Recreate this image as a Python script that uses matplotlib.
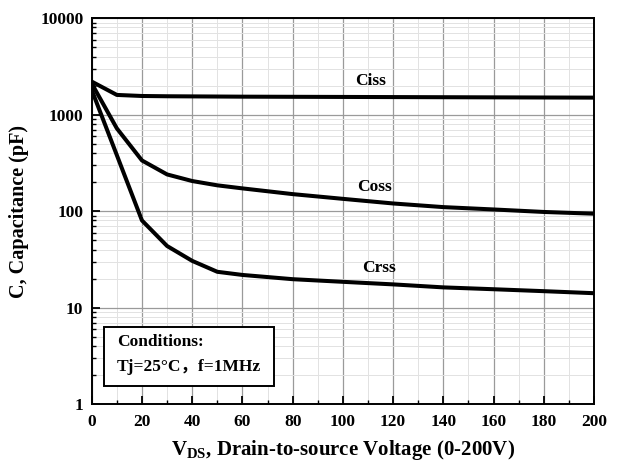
import matplotlib
matplotlib.use("Agg")
import matplotlib.pyplot as plt
from matplotlib.patches import Rectangle
from matplotlib.ticker import MultipleLocator, FixedLocator, LogLocator, NullFormatter

plt.rcParams['font.family'] = ['Liberation Serif', 'Noto Sans CJK SC']
plt.rcParams['font.weight'] = 'bold'
plt.rcParams['mathtext.fontset'] = 'custom'
plt.rcParams['mathtext.rm'] = 'Liberation Serif:bold'
plt.rcParams['mathtext.bf'] = 'Liberation Serif:bold'

# data
vds = [0, 10, 20, 30, 40, 50, 60, 80, 100, 120, 140, 160, 180, 200]
ciss = [2200, 1600, 1560, 1550, 1545, 1540, 1535, 1530, 1525, 1520, 1515, 1510, 1505, 1500]
coss = [2100, 720, 335, 240, 205, 185, 172, 150, 134, 120, 110, 104, 98, 94]
crss = [1800, 380, 80, 43.5, 30.5, 23.5, 21.8, 19.7, 18.5, 17.4, 16.2, 15.5, 14.8, 14.1]

curve_names = ['Ciss', 'Coss', 'Crss']
label_pos = [(111, 2250), (112.5, 176), (114.5, 25.7)]

y_ticks = [1, 10, 100, 1000, 10000]
x_ticks = list(range(0, 201, 20))

fig = plt.figure(figsize=(6.24, 4.65), dpi=100)
ax = fig.add_axes([0.147, 0.131, 0.805, 0.830])

for ys in (ciss, coss, crss):
    ax.plot(vds, ys, color='black', lw=2.9, solid_joinstyle='round', zorder=3)

for name, (lx, ly) in zip(curve_names, label_pos):
    ax.text(lx, ly, name, fontsize=12.5, fontweight='bold', ha='center', va='center')

ax.set_yscale('log')
ax.set_xlim(0, 200)
ax.set_ylim(1, 10000)
ax.xaxis.set_major_locator(FixedLocator(x_ticks))
ax.xaxis.set_minor_locator(MultipleLocator(10))
ax.yaxis.set_major_locator(FixedLocator(y_ticks))
ax.yaxis.set_minor_locator(LogLocator(base=10, subs=range(2, 10)))
ax.yaxis.set_minor_formatter(NullFormatter())
ax.set_yticklabels([str(t) for t in y_ticks])

ax.grid(which='major', color='#9a9a9a', lw=0.9)
ax.grid(which='minor', color='#e2e2e2', lw=0.7)
ax.set_axisbelow(True)

ax.tick_params(which='major', direction='in', length=6, width=1.3, labelsize=12.5)
ax.tick_params(axis='x', which='major', pad=7)
ax.tick_params(axis='y', which='major', pad=6)
ax.tick_params(which='minor', direction='in', length=3, width=1.0)
for lab in ax.get_xticklabels() + ax.get_yticklabels():
    lab.set_fontweight('bold')
for sp in ax.spines.values():
    sp.set_linewidth(1.4)

ax.set_xlabel(r'$\mathbf{V}_{\mathbf{DS}}$, Drain-to-source Voltage (0-200V)',
              fontsize=15, fontweight='bold', labelpad=6)
ax.set_ylabel('C, Capacitance (pF)', fontsize=14.5, fontweight='bold', labelpad=8)

# conditions box
ax.add_patch(Rectangle((0.024, 0.047), 0.339, 0.152, transform=ax.transAxes,
                       fc='white', ec='black', lw=1.4, zorder=5))
ax.text(0.05, 0.161, 'Conditions:', transform=ax.transAxes, fontsize=12.5,
        fontweight='bold', va='center', ha='left', zorder=6)
ax.text(0.05, 0.097, 'Tj=25°C，f=1MHz', transform=ax.transAxes, fontsize=12.5,
        fontweight='bold', va='center', ha='left', zorder=6)

fig.savefig('out.png', dpi=100)
